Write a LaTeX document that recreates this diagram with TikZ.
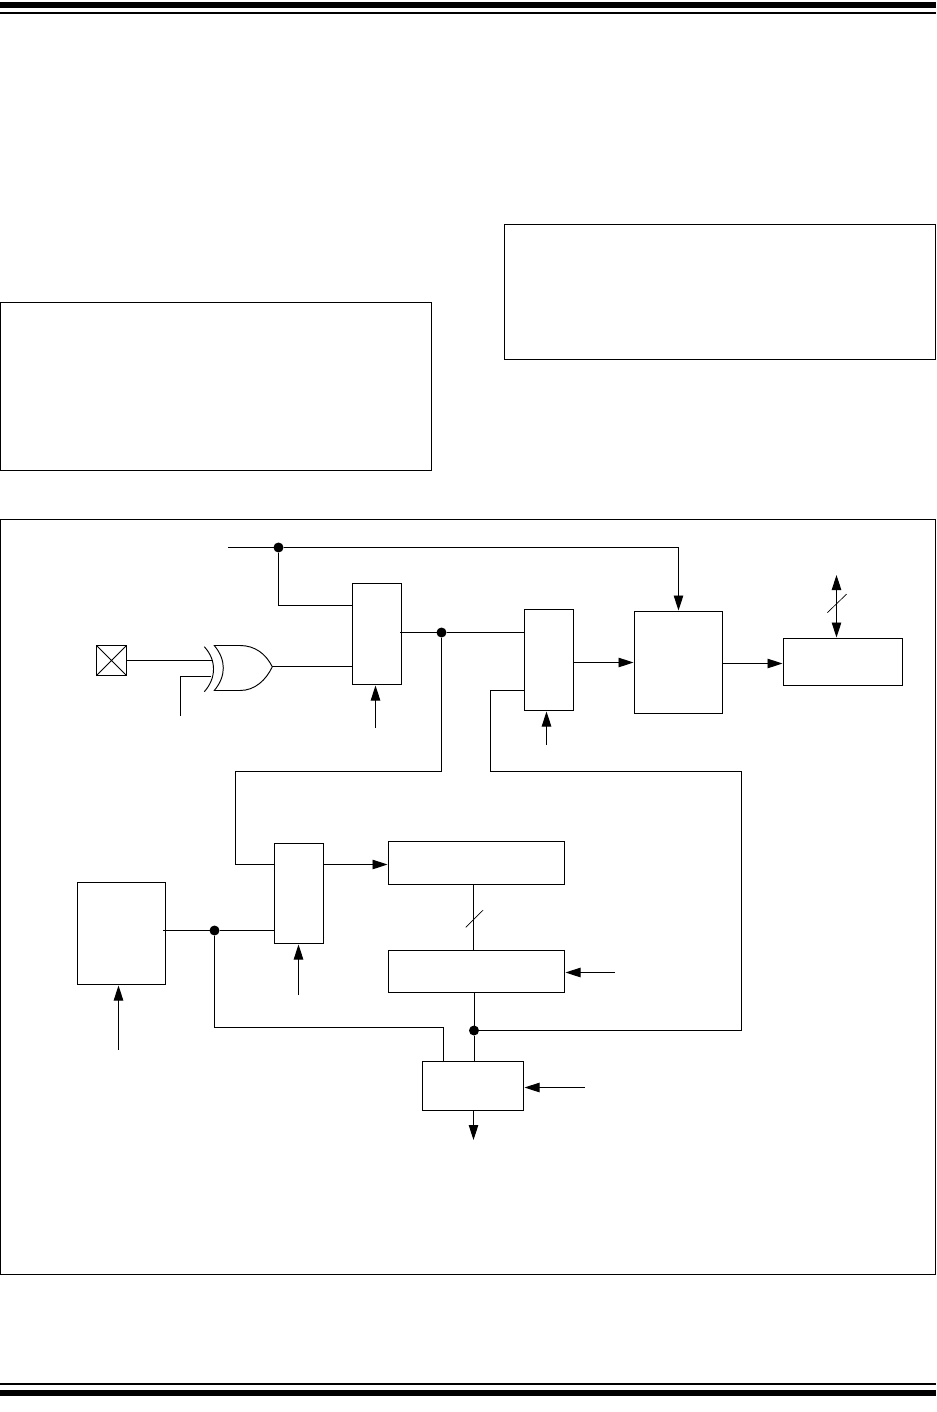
\documentclass[tikz,border=0pt]{standalone}
\usetikzlibrary{arrows.meta,calc}
\tikzset{
  x=1pt,y=-1pt,
  boxs/.style={draw=black,line width=0.95pt,inner sep=0pt,outer sep=0pt,fill=none},
  wire/.style={draw=black,line width=0.95pt,line join=miter},
  arr/.style={wire,-{Triangle[length=15pt,width=9.5pt]},shorten >=1pt},
  darr/.style={wire,{Triangle[length=15pt,width=9.5pt]}-{Triangle[length=15pt,width=9.5pt]},shorten >=1pt,shorten <=0pt},
  slashl/.style={draw=black,line width=0.65pt},
  dotn/.style={circle,fill=black,draw=none,minimum size=10pt,inner sep=0pt,outer sep=0pt},
  rulethick/.style={fill=black,draw=none},
}
\newcommand{\bx}[5]{%
  \pgfmathsetmacro{\bxw}{#4-#2}\pgfmathsetmacro{\bxh}{#5-#3}%
  \pgfmathsetmacro{\bxcx}{(#4+#2)/2}\pgfmathsetmacro{\bxcy}{(#5+#3)/2}%
  \node[boxs,minimum width=\bxw pt,minimum height=\bxh pt] (#1) at (\bxcx,\bxcy) {};}
\begin{document}
\begin{tikzpicture}
\useasboundingbox (0,0) rectangle (936,1412);
% page rules
\fill[rulethick] (0,2) rectangle (936,8);
\fill[rulethick] (0,12) rectangle (936,14);
\fill[rulethick] (0,1383) rectangle (936,1385);
\fill[rulethick] (0,1390) rectangle (936,1396);
% empty frames
\bx{frameR}{504.5}{224.5}{935.5}{359.5}
\bx{frameL}{0.5}{302.5}{431.5}{470.5}
\bx{frameB}{0.5}{519.5}{935.5}{1274.5}
% blocks
\bx{pad}{96.5}{645.5}{126.5}{675.5}
\draw[wire] (pad.north west) -- (pad.south east) (pad.north east) -- (pad.south west);
\bx{muxA}{352.5}{583.5}{401.5}{684.5}
\bx{muxB}{524.5}{609.5}{573.5}{710.5}
\bx{latch}{634.5}{611.5}{722.5}{713.5}
\bx{bus}{783.5}{638.5}{902.5}{685.5}
\bx{muxC}{274.5}{843.5}{323.5}{943.5}
\bx{regA}{388.5}{841.5}{564.5}{884.5}
\bx{regB}{388.5}{950.5}{564.5}{992.5}
\bx{gen}{77.5}{882.5}{165.5}{984.5}
\bx{outb}{422.5}{1061.5}{523.5}{1110.5}
% junction dots
\node[dotn] (dTop) at (278.5,547.5) {};
\node[dotn] (dMid) at (441.5,632.5) {};
\node[dotn] (dGen) at (214.5,930.5) {};
\node[dotn] (dBus) at (474,1030.5) {};
% free ends and bends
\coordinate (topStart) at (228,547.5);
\coordinate (topBend) at (678.5,547.5);
\coordinate (selBend) at (278.5,605.5);
\coordinate (xorA) at (213,660.5);
\coordinate (xorBin) at (210.5,676.5);
\coordinate (xorBbend) at (180.5,676.5);
\coordinate (xorBend) at (180.5,716);
\coordinate (xorOut) at (272.3,666.8);
\coordinate (muxAclk) at (375.5,728);
\coordinate (muxBclk) at (546.5,745);
\coordinate (muxAout) at (400,632.5);
\coordinate (genOut) at (163,930.5);
\coordinate (midB1) at (441.5,771.5);
\coordinate (midB2) at (235.5,771.5);
\coordinate (midB3) at (235.5,864.5);
\coordinate (fbA) at (741.5,1030.5);
\coordinate (fbB) at (741.5,771.5);
\coordinate (fbC) at (490.5,771.5);
\coordinate (fbD) at (490.5,690.5);
\coordinate (genIn) at (118.5,1050);
\coordinate (muxCclk) at (298.5,995);
\coordinate (regBclk) at (614.5,972.5);
\coordinate (outClk) at (584.5,1087.5);
\coordinate (genB1) at (214.5,1027.5);
\coordinate (genB2) at (443.5,1027.5);
\coordinate (busTop) at (836.5,575);
\coordinate (outEnd) at (473.5,1141);
% XOR gate
\draw[wire] (204.3,646.7) .. controls (216.6,660) and (216.6,678) .. (204.3,691.7);
\draw[wire] (214.3,645.5) .. controls (226.3,660) and (226.3,676) .. (214.3,690.5)
  -- (240,690.5) .. controls (255,690.5) and (266,680) .. (xorOut)
  .. controls (266,654) and (255,645.5) .. (240,645.5) -- cycle;
% connectors
\draw[wire] (topStart) -- (dTop);
\draw[wire] (dTop) -- (topBend);
\draw[arr] (topBend) -- (topBend |- latch.north);
\draw[wire] (dTop) -- (selBend) -- (selBend -| muxA.west);
\draw[wire] (pad.east |- xorA) -- (xorA);
\draw[wire] (xorBin) -- (xorBbend) -- (xorBend);
\draw[wire] (xorOut) -- (xorOut -| muxA.west);
\draw[arr] (muxAclk) -- (muxAclk |- muxA.south);
\draw[wire] (muxAout) -- (dMid);
\draw[wire] (dMid) -- (dMid -| muxB.west);
\draw[wire] (dMid) -- (midB1) -- (midB2) -- (midB3) -- (midB3 -| muxC.west);
\draw[arr] (muxB.east |- latch.west) -- (latch.west);
\draw[arr] (muxBclk) -- (muxBclk |- muxB.south);
\draw[arr] (latch.east |- 0,663.5) -- (bus.west |- 0,663.5);
\draw[darr] (busTop) -- (busTop |- bus.north);
\draw[slashl] (827.3,612.7) -- (846.7,594);
\draw[arr] (muxC.east |- midB3) -- (midB3 -| regA.west);
\draw[arr] (muxCclk) -- (muxCclk |- muxC.south);
\draw[wire] (regA.south -| outEnd) -- (regB.north -| outEnd);
\draw[slashl] (465.8,927.3) -- (483.2,910);
\draw[arr] (regBclk) -- (regBclk -| regB.east);
\draw[wire] (regB.south -| dBus) -- (dBus);
\draw[wire] (dBus) -- (outb.north -| dBus);
\draw[wire] (dBus) -- (fbA) -- (fbB) -- (fbC) -- (fbD) -- (fbD -| muxB.west);
\draw[arr] (outClk) -- (outClk -| outb.east);
\draw[arr] (outb.south -| outEnd) -- (outEnd);
\draw[wire] (genOut) -- (dGen);
\draw[wire] (dGen) -- (dGen -| muxC.west);
\draw[wire] (dGen) -- (genB1) -- (genB2) -- (genB2 |- outb.north);
\draw[arr] (genIn) -- (genIn |- gen.south);
\end{tikzpicture}
\end{document}
